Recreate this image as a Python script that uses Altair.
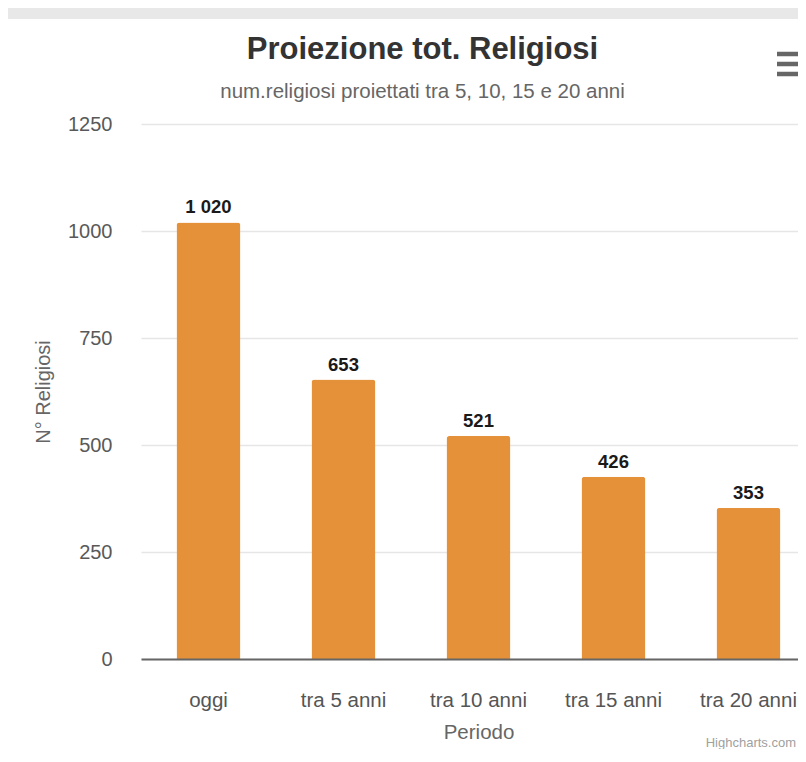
import altair as alt
import pandas as pd

categories = ["oggi", "tra 5 anni", "tra 10 anni", "tra 15 anni", "tra 20 anni"]
values = [1020, 653, 521, 426, 353]
labels = [f"{v:,}".replace(",", " ") for v in values]
y_ticks = [0, 250, 500, 750, 1000, 1250]

FONT = "Liberation Sans"
BAR = "#E5913A"
W, H = 657, 535

df = pd.DataFrame({"periodo": categories, "religiosi": values, "label": labels})

x_enc = alt.X(
    "periodo:N",
    sort=categories,
    title="Periodo",
    scale=alt.Scale(range=[0, 675], paddingInner=0.526, paddingOuter=0.263),
    axis=alt.Axis(
        labelAngle=0, labelFont=FONT, labelFontSize=20.5, labelColor="#555555",
        labelPadding=31, ticks=False, tickSize=0, domainColor="#666666", domainWidth=2,
        titleFont=FONT, titleFontSize=20.5, titleFontWeight="normal", titleColor="#666666",
        titlePadding=12, grid=False, zindex=1,
    ),
)
y_enc = alt.Y(
    "religiosi:Q",
    title="N° Religiosi",
    scale=alt.Scale(domain=[0, 1250], nice=False),
    axis=alt.Axis(
        values=y_ticks, format="d", labelFont=FONT, labelFontSize=20, labelColor="#595959",
        labelPadding=29, ticks=False, tickSize=0, domain=False,
        gridColor="#e6e6e6", gridWidth=1.5,
        titleFont=FONT, titleFontSize=20, titleFontWeight="normal", titleColor="#666666",
        titlePadding=14,
    ),
)

strip = alt.Chart(alt.Data(values=[{}])).mark_rect(color="#e8e8e8").encode(
    x=alt.value(-133), x2=alt.value(W + 20), y=alt.value(-116), y2=alt.value(-105)
)

bars = alt.Chart(df).mark_bar(color=BAR, cornerRadiusTopLeft=3, cornerRadiusTopRight=3).encode(
    x=x_enc, y=y_enc
)

text = alt.Chart(df).mark_text(
    font=FONT, fontSize=18.5, fontWeight="bold", color="#1a1a1a", baseline="alphabetic", dy=-9
).encode(x=alt.X("periodo:N", sort=categories), y="religiosi:Q", text="label:N")

menu = alt.Chart(alt.Data(values=[{"py": -70}, {"py": -60}, {"py": -50}])).mark_rule(
    color="#666666", strokeWidth=4.5
).encode(
    x=alt.value(636), x2=alt.value(W + 20), y=alt.Y("py:Q", scale=None)
)

credit = alt.Chart(alt.Data(values=[{}])).mark_text(
    text="Highcharts.com", font=FONT, fontSize=13, color="#a0a0a0", align="right", baseline="alphabetic"
).encode(x=alt.value(W - 2), y=alt.value(H + 88))

chart = alt.layer(strip, bars, text, menu, credit).properties(
    width=W,
    height=H,
    autosize=alt.AutoSizeParams(type="none"),
    padding={"left": 133, "top": 116, "right": 0, "bottom": 90},
    background="white",
    title=alt.TitleParams(
        text="Proiezione tot. Religiosi",
        subtitle="num.religiosi proiettati tra 5, 10, 15 e 20 anni",
        font=FONT, fontSize=31, fontWeight="bold", color="#333333",
        subtitleFont=FONT, subtitleFontSize=20.5, subtitleColor="#666666",
        subtitlePadding=16, anchor="middle", frame="group", dx=-47, offset=-95,
    ),
).configure_view(stroke=None)

chart.save("out.html", embed_options={"renderer": "svg", "actions": False})
